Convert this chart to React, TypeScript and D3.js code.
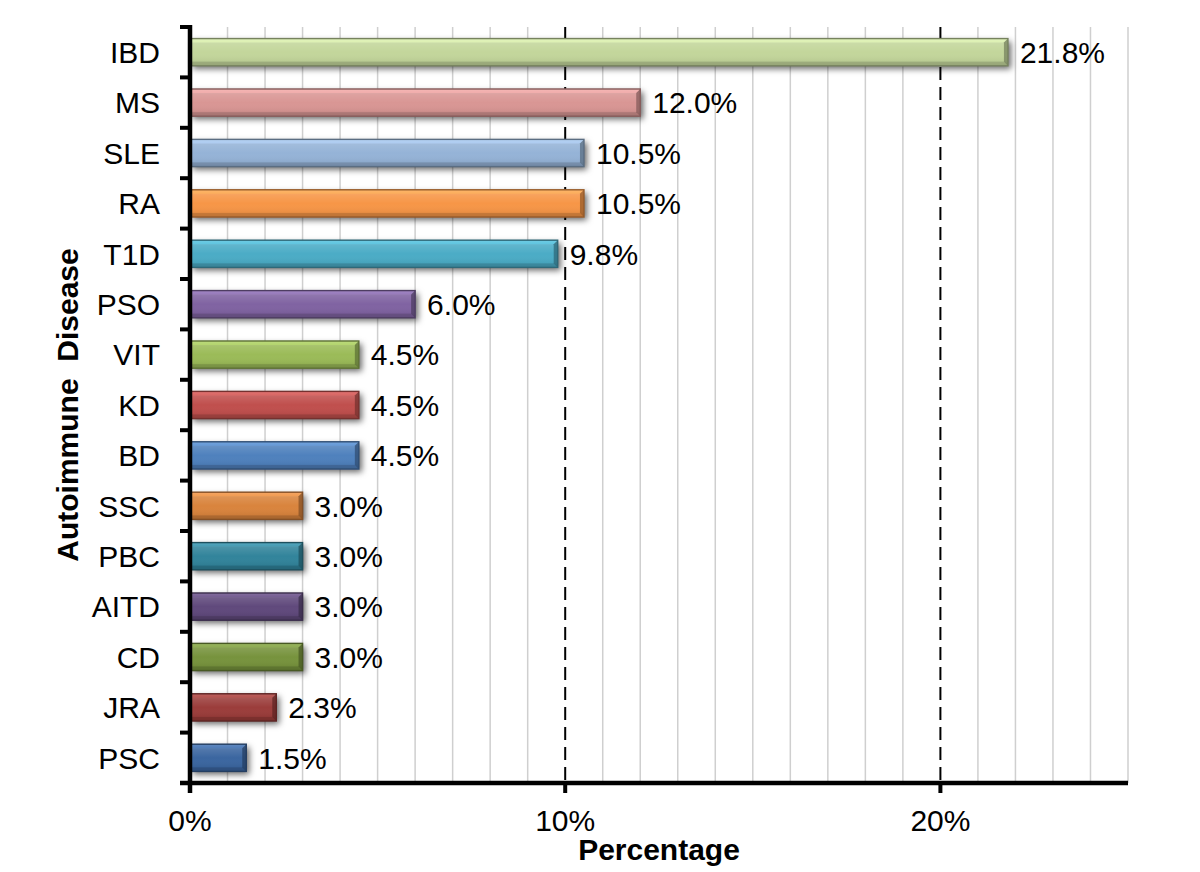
import React from "react";
import * as d3 from "d3";

const categories = ["IBD", "MS", "SLE", "RA", "T1D", "PSO", "VIT", "KD", "BD", "SSC", "PBC", "AITD", "CD", "JRA", "PSC"];
const values = [21.8, 12.0, 10.5, 10.5, 9.8, 6.0, 4.5, 4.5, 4.5, 3.0, 3.0, 3.0, 3.0, 2.3, 1.5];
const barColors = ["#c3d69b", "#d99694", "#95b3d7", "#f79646", "#4bacc6", "#8064a2", "#9bbb59", "#c0504d", "#4f81bd", "#d9843e", "#31849b", "#604a7b", "#77933c", "#9b3c3a", "#3b66a0"];
const xMajorTicks = [0, 10, 20];
const xMinorTicks = d3.range(1, 26).filter((v) => v % 10 !== 0);

const W = 1200;
const H = 872;
const left = 190;
const right = 1128;
const top = 27;
const bottom = 783;
const FONT = "'Liberation Sans', Arial, Helvetica, sans-serif";
const FS = 30;

export default function App() {
  const x = d3.scaleLinear().domain([0, 25]).range([left, right]);
  const y = d3
    .scaleBand<string>()
    .domain(categories)
    .range([top, bottom])
    .paddingInner(0.46)
    .paddingOuter(0.23);
  const boundaries = d3.range(categories.length + 1).map((i) => top + i * y.step());
  const bw = y.bandwidth();

  return (
    <svg width={W} height={H} style={{ position: "absolute", left: 0, top: 0, background: "#fff" }} fontFamily={FONT}>
      <defs>
        <filter id="shadow" x="-10%" y="-60%" width="130%" height="240%">
          <feDropShadow dx="3" dy="3" stdDeviation="3" floodColor="#000" floodOpacity="0.6" />
        </filter>
        <linearGradient id="shine" x1="0" y1="0" x2="0" y2="1">
          <stop offset="0" stopColor="#fff" stopOpacity="0.35" />
          <stop offset="0.18" stopColor="#fff" stopOpacity="0.12" />
          <stop offset="0.5" stopColor="#fff" stopOpacity="0" />
          <stop offset="0.82" stopColor="#000" stopOpacity="0.05" />
          <stop offset="1" stopColor="#000" stopOpacity="0.3" />
        </linearGradient>
      </defs>

      {/* minor gridlines */}
      {xMinorTicks.map((t) => (
        <line key={"g" + t} x1={x(t)} x2={x(t)} y1={top} y2={bottom} stroke="#cfcfcf" strokeWidth={1.5} />
      ))}
      {/* major dashed gridlines */}
      {xMajorTicks.filter((t) => t > 0).map((t) => (
        <line key={"m" + t} x1={x(t)} x2={x(t)} y1={top} y2={bottom} stroke="#000" strokeWidth={2} strokeDasharray="13,7" />
      ))}

      {/* bars */}
      {categories.map((c, i) => {
        const y0 = y(c)!;
        const x0 = x(0);
        const x1 = x(values[i]);
        const w = x1 - x0;
        const col = d3.color(barColors[i])!;
        const dark = d3.color(barColors[i])!.darker(1.4).formatHex();
        const darker = d3.color(barColors[i])!.darker(0.7).formatHex();
        const light = d3.color(barColors[i])!.brighter(0.5).formatHex();
        const b = 4;
        return (
          <g key={c}>
            <rect x={x0} y={y0} width={w} height={bw} fill={col.formatHex()} filter="url(#shadow)" />
            <rect x={x0} y={y0} width={w} height={bw} fill="url(#shine)" />
            <polygon points={`${x0},${y0} ${x1},${y0} ${x1 - b},${y0 + b} ${x0},${y0 + b}`} fill={light} opacity={0.55} />
            <polygon points={`${x0},${y0 + bw} ${x1},${y0 + bw} ${x1 - b},${y0 + bw - b} ${x0},${y0 + bw - b}`} fill={darker} opacity={0.8} />
            <polygon points={`${x1},${y0} ${x1},${y0 + bw} ${x1 - b},${y0 + bw - b} ${x1 - b},${y0 + b}`} fill={dark} opacity={0.75} />
            <rect x={x0} y={y0} width={w} height={bw} fill="none" stroke={dark} strokeWidth={1.4} />
            <text x={x1 + 12} y={y0 + bw / 2} dy="0.36em" fontSize={FS} fill="#000">
              {values[i].toFixed(1) + "%"}
            </text>
          </g>
        );
      })}

      {/* y axis */}
      <line x1={left} x2={left} y1={top - 2} y2={bottom + 10} stroke="#000" strokeWidth={4.5} />
      {boundaries.map((b, i) => (
        <line key={"yt" + i} x1={left - 10} x2={left} y1={b} y2={b} stroke="#000" strokeWidth={4} />
      ))}
      {categories.map((c) => (
        <text key={"yl" + c} x={160} y={y(c)! + bw / 2} dy="0.36em" textAnchor="end" fontSize={FS} fill="#000">
          {c}
        </text>
      ))}

      {/* x axis */}
      <line x1={left - 10} x2={right} y1={bottom} y2={bottom} stroke="#000" strokeWidth={4.5} />
      {xMajorTicks.map((t) => (
        <g key={"xt" + t}>
          <line x1={x(t)} x2={x(t)} y1={bottom} y2={bottom + 10} stroke="#000" strokeWidth={4} />
          <text x={x(t)} y={831} textAnchor="middle" fontSize={FS} fill="#000">
            {t + "%"}
          </text>
        </g>
      ))}

      <text x={(left + right) / 2} y={860} textAnchor="middle" fontSize={FS} fontWeight="bold" fill="#000">
        Percentage
      </text>
      <text
        transform={`translate(78, ${(top + bottom) / 2}) rotate(-90)`}
        textAnchor="middle"
        fontSize={FS}
        fontWeight="bold"
        fill="#000"
        style={{ whiteSpace: "pre" }}
      >
        {"Autoimmune  Disease"}
      </text>
    </svg>
  );
}
